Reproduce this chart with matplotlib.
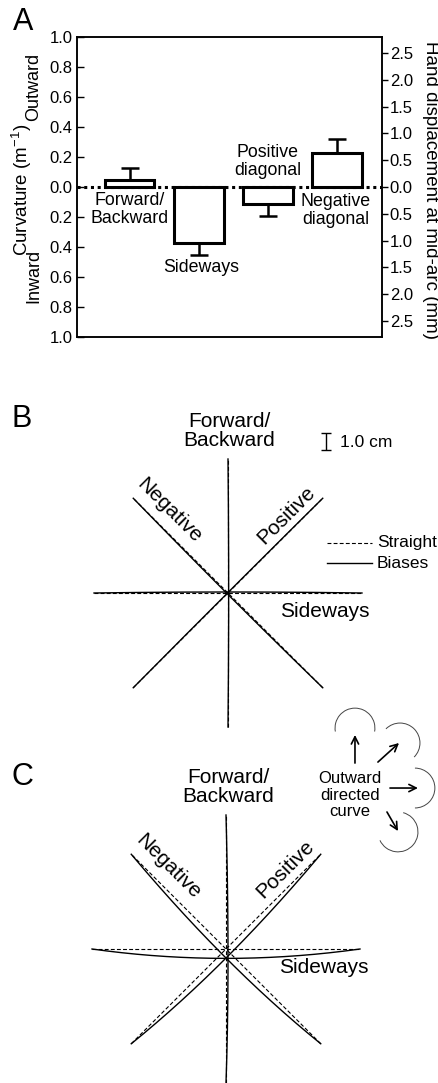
import numpy as np
import matplotlib
matplotlib.use("Agg")
import matplotlib.pyplot as plt
from matplotlib.patches import Arc

plt.rcParams['font.family'] = ['Liberation Sans', 'DejaVu Sans']
plt.rcParams['mathtext.fontset'] = 'custom'
plt.rcParams['mathtext.rm'] = 'Liberation Sans'
plt.rcParams['mathtext.it'] = 'Liberation Sans:italic'

# ---------------- data ----------------
# Panel A
categories = ['Forward/\nBackward', 'Sideways', 'Positive\ndiagonal', 'Negative\ndiagonal']
curvature = [0.05, -0.37, -0.11, 0.23]          # m^-1
curv_err = [0.075, 0.08, 0.08, 0.09]             # one-sided SE
left_ticks = [-1.0, -0.8, -0.6, -0.4, -0.2, 0.0, 0.2, 0.4, 0.6, 0.8, 1.0]
right_ticks = [-2.5, -2.0, -1.5, -1.0, -0.5, 0.0, 0.5, 1.0, 1.5, 2.0, 2.5]
mm_per_curv = 2.8                                # right axis range (mm) for |curvature| = 1

# Panels B/C: movement directions (angle in deg), half-length (cm)
dir_names = ['Forward/Backward', 'Positive', 'Sideways', 'Negative']
dir_angles = [90, 45, 0, 135]
half_len = 8.0
# deviation of the biased path at mid-arc (dx, dy in cm)
dev_B = [(0.04, 0.0), (0.03, 0.06), (0.0, 0.06), (-0.04, -0.05)]
dev_C = [(0.12, -0.54), (0.0, -0.54), (0.0, -0.56), (0.0, -0.54)]

# Panel C inset: outward-directed curve arrows (start, end) and arcs (center, theta1, theta2)
arrow_start = [(7.70, 11.10), (9.07, 11.16), (9.79, 9.61), (9.61, 8.18)]
arrow_end = [(7.70, 12.78), (10.33, 12.30), (11.46, 9.61), (10.27, 7.04)]
arc_center = [(7.70, 13.19), (10.39, 12.30), (11.28, 9.61), (10.27, 6.99)]
arc_theta = [(-10, 190), (-45, 135), (-90, 90), (-155, 75)]
arc_radius = 1.19

# ---------------- figure ----------------
W, H = 438, 1083
fig = plt.figure(figsize=(W / 100, H / 100), dpi=100)


def px_rect(x0, y0, x1, y1):
    return [x0 / W, 1 - y1 / H, (x1 - x0) / W, (y1 - y0) / H]


def ftext(x, y, s, **kw):
    fig.text(x / W, 1 - y / H, s, **kw)


# ---------------- Panel A ----------------
axA = fig.add_axes(px_rect(77, 37, 382, 337))
xpos = np.arange(len(categories))
axA.axhline(0, color='black', ls=(0, (1, 1.2)), lw=2.2, zorder=1)
axA.bar(xpos, curvature, width=0.72, facecolor='white', edgecolor='black',
        linewidth=2.2, zorder=2)
lower = [e if v < 0 else 0 for v, e in zip(curvature, curv_err)]
upper = [e if v > 0 else 0 for v, e in zip(curvature, curv_err)]
axA.errorbar(xpos, curvature, yerr=[lower, upper], fmt='none', ecolor='black',
             elinewidth=1.8, capsize=6.5, capthick=1.8, zorder=3)
axA.set_xlim(-0.76, 3.65)
axA.set_ylim(-1, 1)
axA.set_xticks([])
axA.set_yticks(left_ticks)
axA.set_yticklabels([f"{abs(v):.1f}" for v in left_ticks])
axA.tick_params(axis='y', direction='in', length=5, width=1, labelsize=12, pad=3)
for sp in axA.spines.values():
    sp.set_linewidth(1.1)

axR = axA.twinx()
axR.set_ylim(-mm_per_curv, mm_per_curv)
axR.set_yticks(right_ticks)
axR.set_yticklabels([f"{abs(v):.1f}" for v in right_ticks])
axR.tick_params(axis='y', direction='out', length=4, width=1, labelsize=12, pad=1.5)
for sp in axR.spines.values():
    sp.set_linewidth(1.1)

label_pos = [(0.0, -0.15), (1.03, -0.535), (2.0, 0.171), (2.98, -0.155)]
for (lx, ly), lab in zip(label_pos, categories):
    axA.text(lx, ly, lab, ha='center', va='center', fontsize=12.8, linespacing=1.05)

ftext(22, 190, 'Curvature (m$^{\\mathregular{-1}}$)', rotation=90, ha='center', va='center', fontsize=13.5)
ftext(34, 87, 'Outward', rotation=90, ha='center', va='center', fontsize=13)
ftext(34, 276, 'Inward', rotation=90, ha='center', va='center', fontsize=13)
ftext(430, 190, 'Hand displacement at mid-arc (mm)', rotation=-90, ha='center', va='center', fontsize=13.5)
ftext(23, 22, 'A', ha='center', va='center', fontsize=22)

# ---------------- Panels B & C ----------------
SCALE = 16.75  # px per cm


def star_axes(x0, y0, x1, y1, cx, cy):
    ax = fig.add_axes(px_rect(x0, y0, x1, y1))
    ax.set_xlim(-(cx - x0) / SCALE, (x1 - cx) / SCALE)
    ax.set_ylim(-(y1 - cy) / SCALE, (cy - y0) / SCALE)
    ax.axis('off')
    ax.patch.set_visible(False)
    return ax


def draw_star(ax, devs):
    t = np.linspace(0, 1, 200)
    for ang, (dx, dy) in zip(dir_angles, devs):
        a = np.deg2rad(ang)
        p1 = np.array([-half_len * np.cos(a), -half_len * np.sin(a)])
        p2 = -p1
        ax.plot([p1[0], p2[0]], [p1[1], p2[1]], color='black', lw=0.8,
                ls=(0, (3.5, 2)), zorder=2)
        bx = p1[0] + t * (p2[0] - p1[0]) + 4 * t * (1 - t) * dx
        by = p1[1] + t * (p2[1] - p1[1]) + 4 * t * (1 - t) * dy
        ax.plot(bx, by, color='black', lw=1.0, zorder=3)


def star_labels(ax, fb, neg, pos, side):
    ax.text(*fb, 'Forward/\nBackward', ha='center', va='center', fontsize=15, linespacing=1.05)
    ax.text(*neg, 'Negative', ha='center', va='center', fontsize=15, rotation=-45,
            rotation_mode='anchor')
    ax.text(*pos, 'Positive', ha='center', va='center', fontsize=15, rotation=45,
            rotation_mode='anchor')
    ax.text(*side, 'Sideways', ha='center', va='center', fontsize=15)


# Panel B
axB = star_axes(0, 380, 438, 760, 228, 593)
draw_star(axB, dev_B)
star_labels(axB, (0.06, 9.67), (-3.52, 4.90), (3.46, 4.66), (5.79, -1.13))
axB.errorbar([5.85], [9.04], yerr=[0.5], fmt='none', ecolor='black', elinewidth=1.0,
             capsize=3.5, capthick=1.0)
axB.text(6.69, 9.01, '1.0 cm', ha='left', va='center', fontsize=12.5)
axB.plot([5.91, 8.60], [2.99, 2.99], color='black', lw=0.8, ls=(0, (3.5, 2)))
axB.plot([5.91, 8.60], [1.79, 1.79], color='black', lw=1.0)
axB.text(8.90, 2.99, 'Straight', ha='left', va='center', fontsize=12.5, clip_on=False)
axB.text(8.90, 1.79, 'Biases', ha='left', va='center', fontsize=12.5)
ftext(22, 419, 'B', ha='center', va='center', fontsize=22)

# Panel C
axC = star_axes(0, 690, 438, 1083, 226, 949)
draw_star(axC, dev_C)
star_labels(axC, (0.12, 9.67), (-3.46, 4.90), (3.52, 4.78), (5.85, -1.13))
axC.text(7.40, 9.19, 'Outward\ndirected\ncurve', ha='center', va='center', fontsize=12,
         linespacing=1.1)
for s, e in zip(arrow_start, arrow_end):
    axC.annotate('', xy=e, xytext=s,
                 arrowprops=dict(arrowstyle='->', lw=1.2, color='black',
                                 mutation_scale=13, shrinkA=0, shrinkB=0))
for c, (t1, t2) in zip(arc_center, arc_theta):
    axC.add_patch(Arc(c, 2 * arc_radius, 2 * arc_radius, theta1=t1, theta2=t2,
                      lw=0.7, color='#444444'))
ftext(22, 777, 'C', ha='center', va='center', fontsize=22)

fig.savefig('out.png', dpi=100)
